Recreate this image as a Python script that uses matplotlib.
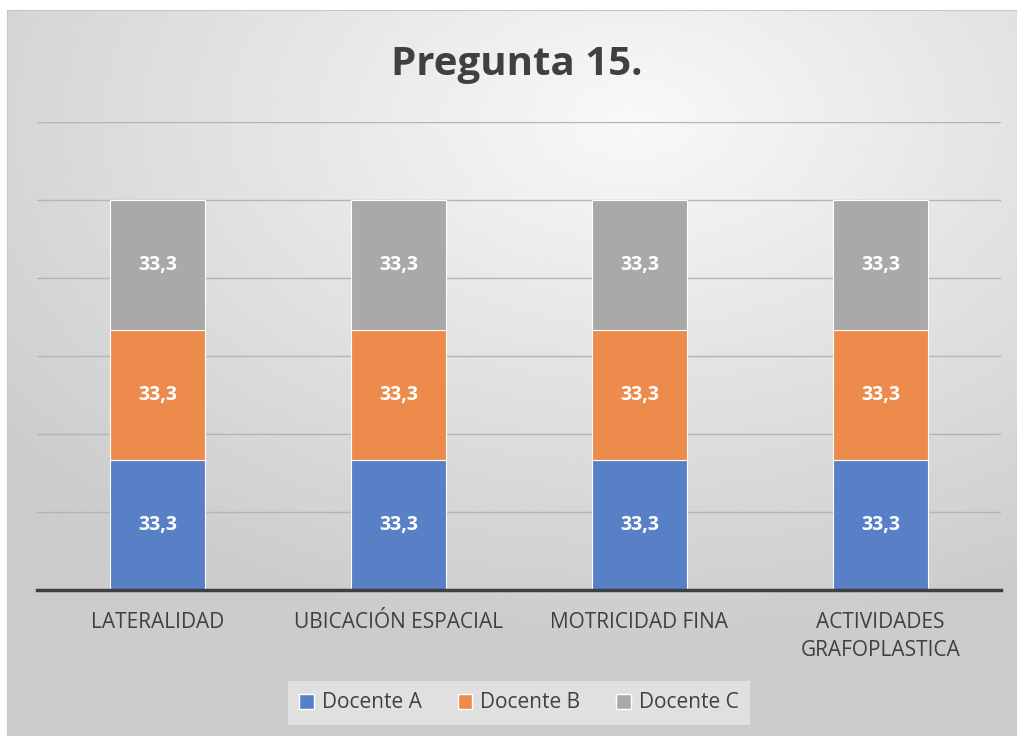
import numpy as np
import matplotlib.pyplot as plt
from matplotlib.patches import Patch

categories = ["LATERALIDAD", "UBICACIÓN ESPACIAL", "MOTRICIDAD FINA", "ACTIVIDADES\nGRAFOPLASTICA"]
docente_a = [33.3, 33.3, 33.3, 33.3]
docente_b = [33.3, 33.3, 33.3, 33.3]
docente_c = [33.3, 33.3, 33.3, 33.3]
series_names = ["Docente A", "Docente B", "Docente C"]
colors = ["#5880c7", "#ec8b4b", "#a9a9a9"]

plt.rcParams["font.family"] = ["Open Sans", "DejaVu Sans"]

W, H = 1017, 736
fig = plt.figure(figsize=(W / 100, H / 100), dpi=100)
fig.patch.set_facecolor("white")

# gradient background panel
bg = fig.add_axes([7 / W, 0, 1 - 7 / W, 1 - 10 / H])
yy, xx = np.mgrid[0:1:300j, 0:1:400j]
r = np.sqrt(((xx - 0.62) / 1.0) ** 2 + ((yy - 0.15) / 0.9) ** 2)
shade = np.clip(0.975 - 0.22 * r, 0.80, 0.98)
bg.imshow(shade, cmap="gray", vmin=0, vmax=1, aspect="auto", extent=[0, 1, 1, 0])
bg.set_xticks([])
bg.set_yticks([])
for s in bg.spines.values():
    s.set_color("#c8c8c8")
bg.set_zorder(0)

ax = fig.add_axes([37 / W, 1 - 590 / H, 964 / W, 468 / H])
ax.set_zorder(1)
ax.patch.set_alpha(0)

x = np.arange(len(categories))
bw = 0.395
bottom = np.zeros(len(categories))
for vals, name, c in zip([docente_a, docente_b, docente_c], series_names, colors):
    bars = ax.bar(x, vals, bw, bottom=bottom, color=c, edgecolor="white", linewidth=0.8, label=name, zorder=3)
    for b, v in zip(bars, vals):
        ax.text(b.get_x() + b.get_width() / 2, b.get_y() + b.get_height() / 2,
                f"{v:.1f}".replace(".", ","), ha="center", va="center",
                color="white", fontsize=14, fontweight="bold", zorder=4)
    bottom += np.array(vals)

ax.set_xlim(-0.5, len(categories) - 0.5)
ax.set_ylim(0, 120)
ax.set_yticks(np.arange(0, 121, 20))
ax.yaxis.grid(True, color="#b4b4b4", linewidth=1)
ax.set_axisbelow(True)
ax.tick_params(axis="y", left=False, labelleft=False)
ax.tick_params(axis="x", length=0, pad=16, labelsize=15, labelcolor="#404040")
ax.set_xticks(x)
ax.set_xticklabels(categories, linespacing=1.45)
for s in ["top", "right", "left"]:
    ax.spines[s].set_visible(False)
ax.spines["bottom"].set_color("#404040")
ax.spines["bottom"].set_linewidth(2.5)
ax.spines["bottom"].set_zorder(5)

fig.text(0.508, 1 - 64 / H, "Pregunta 15.", ha="center", va="center",
         fontsize=29, fontweight="bold", color="#404040")

handles = [Patch(facecolor=c, edgecolor="white", label=n) for c, n in zip(colors, series_names)]
leg = fig.legend(handles=handles, loc="center", bbox_to_anchor=(519 / W, 1 - 703 / H), ncol=3,
                 frameon=True, fontsize=15, handlelength=0.7, handleheight=0.7,
                 handletextpad=0.4, columnspacing=1.7, borderpad=0.55,
                 labelcolor="#404040")
leg.get_frame().set_facecolor("#e0e0e0")
leg.get_frame().set_edgecolor("none")
leg.get_frame().set_alpha(1)
leg.get_frame().set_boxstyle("square", pad=0.0)

fig.savefig("out.png", dpi=100, facecolor=fig.get_facecolor())
